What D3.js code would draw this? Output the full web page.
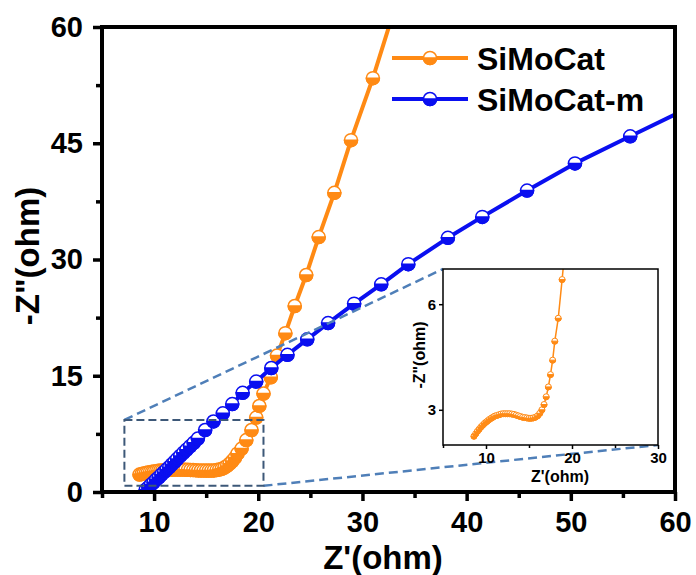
<!DOCTYPE html>
<html><head><meta charset="utf-8">
<script src="https://cdn.jsdelivr.net/npm/d3@7/dist/d3.min.js"></script>
<style>
body{margin:0;background:#fff;}
text{font-family:"Liberation Sans",Arial,sans-serif;font-weight:bold;}
</style></head>
<body>
<svg id="c" width="696" height="575"></svg>
<script>
// ---- data ----
const seriesNames = ["SiMoCat", "SiMoCat-m"];
const seriesColors = ["#ff8a14", "#0a0ff0"];
const zReOrange = [8.6,8.8,9.0,9.2,9.4,9.6,9.8,10.0,10.2,10.4,10.6,10.8,11.0,11.25,11.5,11.75,12.0,12.25,12.5,12.75,13.0,13.25,13.5,13.75,14.0,14.25,14.5,14.75,15.0,15.25,15.5,15.75,16.0,16.25,16.5,16.75,17.0,17.25,17.5,17.75,18.0,18.4,18.85,19.35,19.8,20.1,20.5,21.2,21.8,22.6,23.5,24.6,25.8,27.3,28.9,31.0,33.0];
const zImOrange = [2.25,2.32,2.39,2.45,2.51,2.56,2.61,2.65,2.69,2.73,2.76,2.79,2.82,2.84,2.86,2.88,2.89,2.89,2.89,2.89,2.88,2.87,2.85,2.83,2.81,2.79,2.78,2.77,2.76,2.76,2.77,2.79,2.83,2.9,3.0,3.15,3.37,3.65,4.0,4.41,4.95,5.6,6.7,8.0,9.6,11.1,12.7,14.8,17.6,20.5,24.0,28.0,32.9,38.6,45.4,53.4,62.0];
const zReBlue = [9.2,9.45,9.7,9.95,10.2,10.45,10.7,10.95,11.2,11.45,11.7,11.95,12.2,12.5,12.8,13.1,13.45,13.8,14.2,14.9,15.7,16.6,17.5,18.5,19.8,21.25,22.8,24.7,26.7,29.2,31.8,34.4,38.2,41.5,45.8,50.4,55.7,61.5];
const zImBlue = [0.3,0.6,0.95,1.25,1.6,1.9,2.25,2.55,2.9,3.2,3.55,3.9,4.25,4.65,5.05,5.45,5.9,6.35,6.9,8.0,9.1,10.15,11.35,12.8,14.25,16.0,17.7,19.7,21.8,24.3,26.8,29.4,32.8,35.5,38.9,42.4,45.9,49.7];
const xTicks = [10,20,30,40,50,60];
const xMinorTicks = [5,15,25,35,45,55];
const yTicks = [0,15,30,45,60];
const yMinorTicks = [7.5,22.5,37.5,52.5];
const insetXTicks = [10,20,30];
const insetXMinor = [5,15,25];
const insetYTicks = [3,6];
const zoomBox = [[7.15,20.5],[0.8,9.3]]; // x range, y range of dashed box

// ---- main chart ----
const svg = d3.select("#c");
const x = d3.scaleLinear().domain([5,60]).range([102,675]);
const y = d3.scaleLinear().domain([0,60]).range([492,27]);

const orange = zReOrange.map((v,i)=>[v,zImOrange[i]]);
const blue = zReBlue.map((v,i)=>[v,zImBlue[i]]);
const series = [orange, blue];

svg.append("defs").append("clipPath").attr("id","clipMain")
  .append("rect").attr("x",102).attr("y",27).attr("width",573).attr("height",465);

function halfPath(r){ return `M${-r},0A${r},${r} 0 0 0 ${r},0Z`; }

function drawSeries(g, data, color, sx, sy, lw, r, sw){
  const line = d3.line().x(d=>sx(d[0])).y(d=>sy(d[1]));
  g.append("path").datum(data).attr("d",line).attr("fill","none")
    .attr("stroke",color).attr("stroke-width",lw).attr("stroke-linejoin","round");
  const m = g.selectAll(null).data(data).enter().append("g")
    .attr("transform",d=>`translate(${sx(d[0])},${sy(d[1])})`);
  m.append("circle").attr("r",r).attr("fill","#fff").attr("stroke",color).attr("stroke-width",sw);
  m.append("path").attr("d",halfPath(r)).attr("fill",color).attr("stroke",color).attr("stroke-width",sw);
}

const gData = svg.append("g").attr("clip-path","url(#clipMain)");
series.forEach((s,i)=>drawSeries(gData, s, seriesColors[i], x, y, 4, 6.5, 1.5));

// axes
const fs = 29;
const gx = svg.append("g").attr("transform","translate(0,492)")
  .call(d3.axisBottom(x).tickValues(xTicks).tickSize(9).tickPadding(10).tickFormat(d3.format("d")));
const gxm = svg.append("g").attr("transform","translate(0,492)")
  .call(d3.axisBottom(x).tickValues(xMinorTicks).tickSize(6).tickFormat(""));
const gy = svg.append("g").attr("transform","translate(102,0)")
  .call(d3.axisLeft(y).tickValues(yTicks).tickSize(9).tickPadding(10).tickFormat(d3.format("d")));
const gym = svg.append("g").attr("transform","translate(102,0)")
  .call(d3.axisLeft(y).tickValues(yMinorTicks).tickSize(6).tickFormat(""));
[gx,gxm,gy,gym].forEach(g=>{
  g.select(".domain").remove();
  g.selectAll(".tick line").attr("stroke","#000").attr("stroke-width",3.5);
  g.selectAll(".tick text").attr("font-size",fs).attr("fill","#000")
    .style("font-family","'Liberation Sans',Arial,sans-serif").style("font-weight","bold");
});
svg.append("rect").attr("x",102).attr("y",27).attr("width",573).attr("height",465)
  .attr("fill","none").attr("stroke","#000").attr("stroke-width",4);

svg.append("text").attr("x",383).attr("y",569).attr("text-anchor","middle")
  .attr("font-size",33).text("Z'(ohm)");
svg.append("text").attr("transform","translate(39,256) rotate(-90)").attr("text-anchor","middle")
  .attr("font-size",33).text("-Z\"(ohm)");

// legend
seriesNames.forEach((name,i)=>{
  const ly = 58 + i*41;
  svg.append("line").attr("x1",392).attr("x2",468).attr("y1",ly).attr("y2",ly)
    .attr("stroke",seriesColors[i]).attr("stroke-width",4);
  const m = svg.append("g").attr("transform",`translate(430,${ly})`);
  m.append("circle").attr("r",6.5).attr("fill","#fff").attr("stroke",seriesColors[i]).attr("stroke-width",1.5);
  m.append("path").attr("d",halfPath(6.5)).attr("fill",seriesColors[i]).attr("stroke",seriesColors[i]).attr("stroke-width",1.5);
  svg.append("text").attr("x",477).attr("y",ly).attr("dy","0.36em")
    .attr("font-size",32).attr("fill","#000").text(name);
});

// ---- inset ----
const xi = d3.scaleLinear().domain([5,30]).range([443,658]);
const yi = d3.scaleLinear().domain([2,7]).range([445,269]);

// zoom box and connectors
const bx0 = x(zoomBox[0][0]), bx1 = x(zoomBox[0][1]);
const by0 = y(zoomBox[1][1]), by1 = y(zoomBox[1][0]);
svg.append("line").attr("x1",bx0).attr("y1",by0).attr("x2",xi.range()[0]).attr("y2",yi.range()[1])
  .attr("stroke","#4f7fb8").attr("stroke-width",2.5).attr("stroke-dasharray","9,5");
svg.append("line").attr("x1",bx1).attr("y1",by1).attr("x2",xi.range()[1]).attr("y2",yi.range()[0])
  .attr("stroke","#4f7fb8").attr("stroke-width",2.5).attr("stroke-dasharray","9,5");
svg.append("rect").attr("x",bx0).attr("y",by0).attr("width",bx1-bx0).attr("height",by1-by0)
  .attr("fill","none").attr("stroke","#3d5878").attr("stroke-width",2).attr("stroke-dasharray","8,4");

svg.append("rect").attr("x",443).attr("y",269).attr("width",215).attr("height",176)
  .attr("fill","#fff");
svg.select("defs").append("clipPath").attr("id","clipInset")
  .append("rect").attr("x",443).attr("y",269).attr("width",215).attr("height",176);
const gIn = svg.append("g").attr("clip-path","url(#clipInset)");
drawSeries(gIn, orange, seriesColors[0], xi, yi, 1.5, 3, 1);

const ix = svg.append("g").attr("transform","translate(0,445)")
  .call(d3.axisBottom(xi).tickValues(insetXTicks).tickSize(4).tickPadding(3).tickFormat(d3.format("d")));
const ixm = svg.append("g").attr("transform","translate(0,445)")
  .call(d3.axisBottom(xi).tickValues(insetXMinor).tickSize(3).tickFormat(""));
const iy = svg.append("g").attr("transform","translate(443,0)")
  .call(d3.axisLeft(yi).tickValues(insetYTicks).tickSize(4).tickPadding(3).tickFormat(d3.format("d")));
[ix,ixm,iy].forEach(g=>{
  g.select(".domain").remove();
  g.selectAll(".tick line").attr("stroke","#000").attr("stroke-width",1.5);
  g.selectAll(".tick text").attr("font-size",15).attr("fill","#000")
    .style("font-family","'Liberation Sans',Arial,sans-serif").style("font-weight","bold");
});
svg.append("rect").attr("x",443).attr("y",269).attr("width",215).attr("height",176)
  .attr("fill","none").attr("stroke","#000").attr("stroke-width",1.5);
svg.append("text").attr("x",560).attr("y",482).attr("text-anchor","middle")
  .attr("font-size",16).text("Z'(ohm)");
svg.append("text").attr("transform","translate(425,355) rotate(-90)").attr("text-anchor","middle")
  .attr("font-size",16).text("-Z\"(ohm)");
</script>
</body></html>
